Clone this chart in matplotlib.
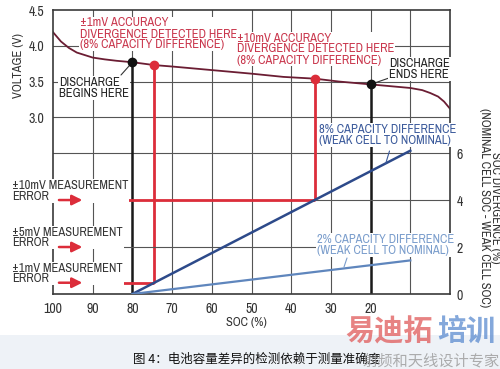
import matplotlib
matplotlib.use('Agg')
import matplotlib.pyplot as plt
from matplotlib.patches import Rectangle
from matplotlib import font_manager

# ---------------- data ----------------
soc_curve = [100, 98, 96, 94, 92, 90, 87, 84, 80, 74.5, 70, 60, 50, 42, 34, 28, 20, 14, 10, 7, 5, 3, 1.5, 0]
volt_curve = [4.19, 4.06, 3.97, 3.905, 3.87, 3.835, 3.81, 3.79, 3.77, 3.73, 3.71, 3.66, 3.61, 3.565,
              3.54, 3.50, 3.46, 3.43, 3.41, 3.38, 3.34, 3.29, 3.22, 3.12]

div8_soc = [80, 10]
div8_val = [0, 6.1]
div2_soc = [80, 10]
div2_val = [0, 1.43]

begin_soc, begin_v = 80, 3.77
end_soc, end_v = 20, 3.46
det1_soc, det1_v, det1_level = 74.5, 3.73, 0.48
det10_soc, det10_v, det10_level = 34, 3.54, 4.0
err5_level = 2.0

x_ticks = [100, 90, 80, 70, 60, 50, 40, 30, 20]
v_ticks = [3.0, 3.5, 4.0, 4.5]
d_ticks = [0, 2, 4, 6]
v_grid = [4.0, 3.5, 3.0, 2.5]
d_grid = [2, 4]
x_grid = [90, 80, 70, 60, 50, 40, 30, 20, 10]

VLIM = (0.53, 4.5)
DLIM = (0, 12.09)

# ---------------- fonts ----------------
names = {f.name for f in font_manager.fontManager.ttflist}
if 'Archivo Narrow' in names:
    BASE = 'Archivo Narrow'
    FS = 9.0
else:
    BASE = 'Liberation Sans'
    FS = 7.0
plt.rcParams['font.family'] = [BASE, 'DejaVu Sans']

W, H = 500, 369
fig = plt.figure(figsize=(5, 3.69), dpi=100)
fig.patch.set_facecolor('white')

def fx(px):
    return px / W

def fy(py):
    return 1 - py / H

ax = fig.add_axes([fx(53), fy(294), fx(450) - fx(53), fy(10) - fy(294)])
ax.set_xlim(100, 0)
ax.set_ylim(*VLIM)
ax2 = ax.twinx()
ax2.set_ylim(*DLIM)
ax2.set_xlim(100, 0)

def d2v(d):
    return VLIM[0] + (d - DLIM[0]) / (DLIM[1] - DLIM[0]) * (VLIM[1] - VLIM[0])

GRID = '#555555'
for a in (ax, ax2):
    for s in a.spines.values():
        s.set_color('#3a3a3a')
        s.set_linewidth(1.2)
for s in ax.spines.values():
    s.set_visible(False)

ax.set_xticks(x_ticks)
ax.set_xticklabels([str(t) for t in x_ticks])
ax.set_yticks(v_ticks)
ax.set_yticklabels(['%.1f' % t for t in v_ticks])
ax2.set_yticks(d_ticks)
ax2.set_yticklabels([str(t) for t in d_ticks])
TICKFS = FS + 1.0
ax.tick_params(axis='x', length=0, pad=6, labelsize=TICKFS, labelcolor='#333333')
ax.tick_params(axis='y', length=0, pad=6, labelsize=TICKFS, labelcolor='#333333')
ax2.tick_params(axis='y', length=0, pad=5, labelsize=TICKFS, labelcolor='#333333')

for x in x_grid:
    ax.axvline(x, color=GRID, lw=0.8, zorder=1)
for v in v_grid:
    ax.axhline(v, color=GRID, lw=0.8, zorder=1)
for d in d_grid:
    ax2.axhline(d, color=GRID, lw=0.8, zorder=1)

RED = '#dc2d3a'
# vertical black lines
ax.vlines([begin_soc, end_soc], VLIM[0], [begin_v, end_v], color='#1a1a1a', lw=1.8, zorder=3)
# vertical red lines
ax.vlines(det1_soc, d2v(det1_level), det1_v, color=RED, lw=2.0, zorder=3)
ax.vlines(det10_soc, d2v(det10_level), det10_v, color=RED, lw=2.0, zorder=3)
# voltage curve
ax.plot(soc_curve, volt_curve, color='#6b1d33', lw=1.3, zorder=4)
ax.plot([begin_soc, end_soc], [begin_v, end_v], 'o', color='#111111', ms=6, zorder=6)
ax.plot([det1_soc, det10_soc], [det1_v, det10_v], 'o', color=RED, ms=6, zorder=6)

# red horizontal lines and arrows
line_start = 91.9
ax2.hlines([det10_level, det1_level], line_start, [det10_soc, det1_soc], color=RED, lw=2.0, zorder=3)
for lvl in (det10_level, err5_level, det1_level):
    ax2.annotate('', xy=(92.6, lvl), xytext=(98.5, lvl),
                 arrowprops=dict(arrowstyle='-|>,head_length=0.6,head_width=0.3', color=RED, lw=1.8,
                                 shrinkA=0, shrinkB=0), zorder=9, annotation_clip=False)

# blue divergence lines
ax2.plot(div8_soc, div8_val, color='#2d4a8a', lw=1.8, zorder=3)
ax2.plot(div2_soc, div2_val, color='#5f86bd', lw=1.6, zorder=3)

TXT = dict(transform=fig.transFigure, zorder=7, clip_on=False, fontsize=FS, linespacing=1.0,
           bbox=dict(facecolor='white', edgecolor='none', pad=0.6))
RTXT = '#c9364c'
ax2.text(fx(80), fy(34), '\u00b11mV ACCURACY\nDIVERGENCE DETECTED HERE\n(8% CAPACITY DIFFERENCE)',
         color=RTXT, ha='left', va='center', **TXT)
ax2.text(fx(237), fy(49), '\u00b110mV ACCURACY\nDIVERGENCE DETECTED HERE\n(8% CAPACITY DIFFERENCE)',
         color=RTXT, ha='left', va='center', **TXT)
ax2.text(fx(59), fy(88), 'DISCHARGE\nBEGINS HERE', color='#222222', ha='left', va='center', **TXT)
ax2.text(fx(389), fy(69), 'DISCHARGE\nENDS HERE', color='#222222', ha='left', va='center', **TXT)
ax2.text(fx(319), fy(135), '8% CAPACITY DIFFERENCE\n(WEAK CELL TO NOMINAL)', color='#3b5a9b',
         ha='left', va='center', **TXT)
ax2.text(fx(317), fy(245), '2% CAPACITY DIFFERENCE\n(WEAK CELL TO NOMINAL)', color='#7a9dcc',
         ha='left', va='center', **TXT)
for label, yc in (('\u00b110mV MEASUREMENT\nERROR', 191), ('\u00b15mV MEASUREMENT\nERROR', 237.5),
                  ('\u00b11mV MEASUREMENT\nERROR', 273.5)):
    ax2.text(fx(12), fy(yc), label, color='#333333', ha='left', va='center', **TXT)

# leader lines
LEAD = dict(arrowstyle='-', lw=0.8, shrinkA=0, shrinkB=3)
ax.annotate('', xy=(begin_soc, begin_v), xytext=(fx(121), fy(75)), textcoords='figure fraction',
            arrowprops=dict(color='#333333', **LEAD), zorder=5)
ax.annotate('', xy=(end_soc, end_v), xytext=(fx(389), fy(78)), textcoords='figure fraction',
            arrowprops=dict(color='#333333', **LEAD), zorder=5)
ax2.annotate('', xy=(16.2, 0.087 * 63.8), xytext=(fx(389.5), fy(151)), textcoords='figure fraction',
             arrowprops=dict(color='#3b5a9b', arrowstyle='-', lw=0.8, shrinkA=0, shrinkB=0), zorder=5)
ax2.annotate('', xy=(fx(344), fy(267)), xycoords='figure fraction', xytext=(fx(347), fy(258)),
             textcoords='figure fraction',
             arrowprops=dict(color='#7a9dcc', arrowstyle='-', lw=0.8, shrinkA=0, shrinkB=0), zorder=5)

# axis labels
fig.text(fx(18), fy(65), 'VOLTAGE (V)', rotation=90, ha='center', va='center', fontsize=FS, color='#333333')
fig.text(fx(246), fy(323), 'SOC (%)', ha='center', va='center', fontsize=FS, color='#333333')
fig.text(fx(490), fy(208), 'SOC DIVERGENCE (%)\n(NOMINAL CELL SOC - WEAK CELL SOC)', rotation=270,
         ha='center', va='center', fontsize=FS, color='#333333', linespacing=1.0, multialignment='center')

# caption band
fig.patches.append(Rectangle((0, 0), 1, fy(335), transform=fig.transFigure, facecolor='#eef2f7',
                             edgecolor='none', zorder=0))
fig.text(fx(257), fy(359), '图 4：电池容量差异的检测依赖于测量准确度', ha='center', va='center',
         fontsize=9, color='#111111', family=['Noto Sans CJK SC', 'DejaVu Sans'])
fig.text(fx(345), fy(331), '易迪拓', ha='left', va='center', fontsize=21, fontweight='bold',
         color='#e05a5a', alpha=0.75, family=['Noto Sans CJK SC', 'DejaVu Sans'])
fig.text(fx(437), fy(331), '培训', ha='left', va='center', fontsize=21, fontweight='bold',
         color='#5b8bd0', alpha=0.75, family=['Noto Sans CJK SC', 'DejaVu Sans'])
fig.text(fx(500), fy(361), '射频和天线设计专家', ha='right', va='center', fontsize=11,
         color='#9a9a9a', alpha=0.8, family=['Noto Sans CJK SC', 'DejaVu Sans'])

fig.savefig('out.png', dpi=100)
